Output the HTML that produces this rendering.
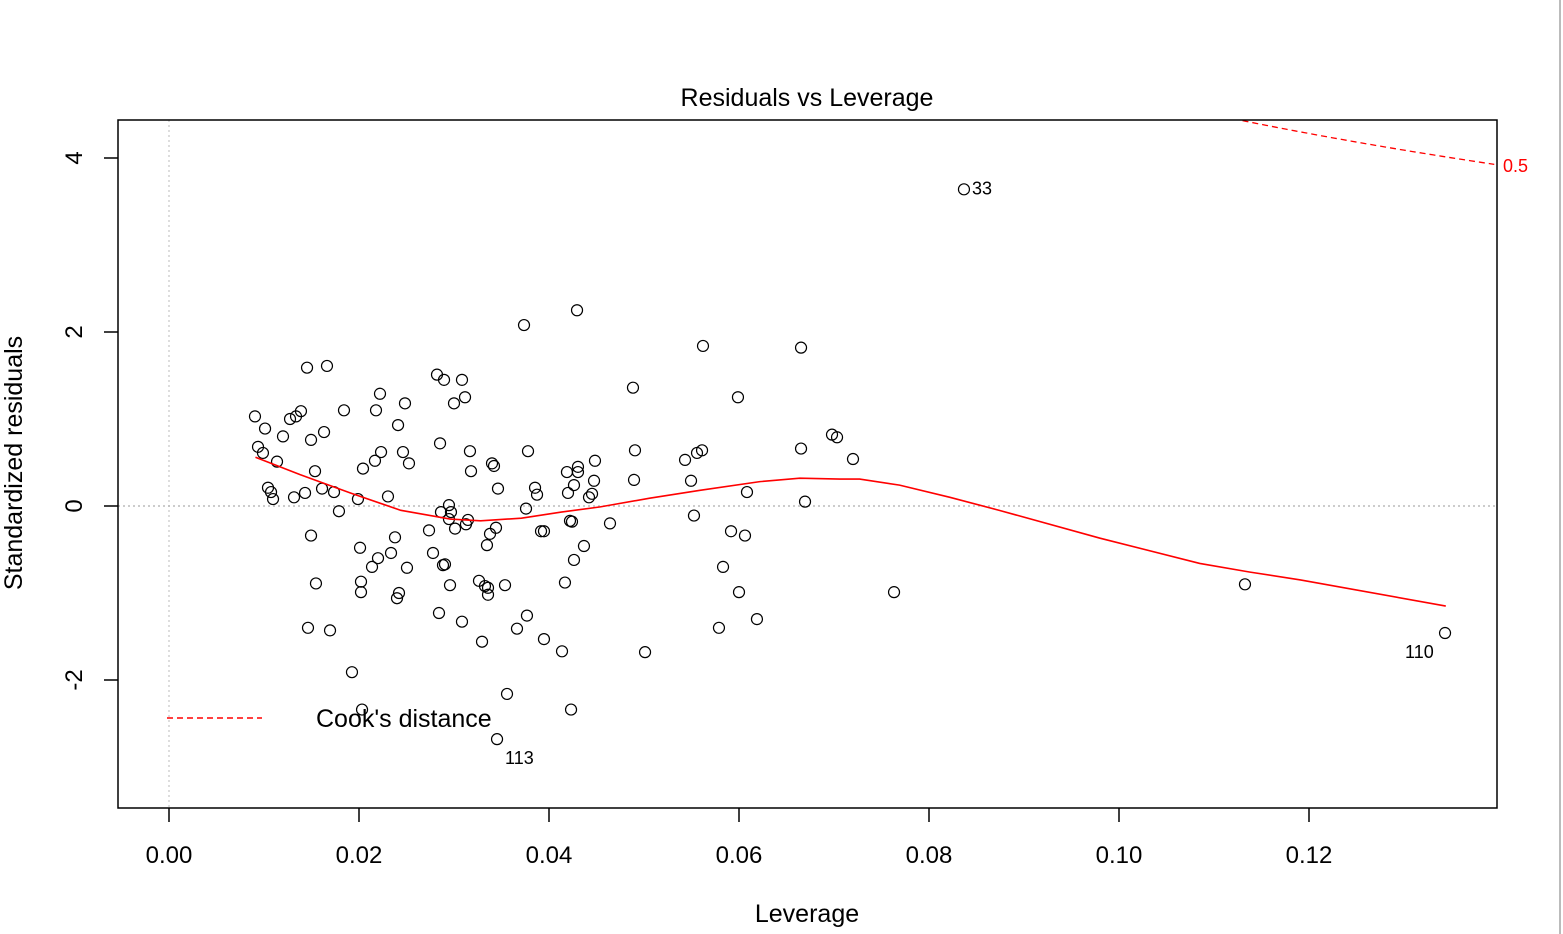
<!DOCTYPE html>
<html><head><meta charset="utf-8">
<style>
html,body{margin:0;padding:0;background:#fff;}
svg{display:block;font-family:"Liberation Sans",sans-serif;}
</style></head>
<body>
<svg id="chart" width="1563" height="934" viewBox="0 0 1563 934" xmlns="http://www.w3.org/2000/svg">
<line x1="1560" y1="0" x2="1560" y2="934" stroke="#bbb" stroke-width="2"/>
<text x="807" y="106" font-size="25" text-anchor="middle">Residuals vs Leverage</text>
<text x="807" y="922" font-size="25" text-anchor="middle">Leverage</text>
<text transform="translate(22,463) rotate(-90)" font-size="25" text-anchor="middle">Standardized residuals</text>
<g id="grid"></g><g id="axes"></g><g id="marks"></g>
<rect x="118" y="120" width="1379" height="688" fill="none" stroke="#000" stroke-width="1.5"/>
<line x1="167" y1="718" x2="262" y2="718" stroke="red" stroke-width="1.5" stroke-dasharray="6,4"/>
<text x="316" y="727" font-size="25">Cook's distance</text>
</svg>
<script>
const leverage=[0.00905,0.00937,0.00989,0.01011,0.01042,0.01074,0.01095,0.01137,0.01200,0.01274,0.01316,0.01337,0.01389,0.01432,0.01453,0.01495,0.01495,0.01537,0.01547,0.01463,0.01611,0.01632,0.01663,0.01695,0.01737,0.01789,0.01842,0.01926,0.01989,0.02011,0.02021,0.02021,0.02032,0.02042,0.02137,0.02168,0.02179,0.02200,0.02221,0.02232,0.02305,0.02337,0.02379,0.02400,0.02411,0.02421,0.02463,0.02484,0.02505,0.02526,0.02737,0.02779,0.02821,0.02842,0.02853,0.02863,0.02884,0.02895,0.02905,0.02947,0.02947,0.02958,0.02968,0.03000,0.03011,0.03084,0.03084,0.03116,0.03126,0.03147,0.03168,0.03179,0.03263,0.03295,0.03326,0.03347,0.03358,0.03358,0.03379,0.03400,0.03421,0.03442,0.03453,0.03463,0.03537,0.03558,0.03663,0.03737,0.03758,0.03768,0.03779,0.03853,0.03874,0.03916,0.03947,0.03947,0.04137,0.04168,0.04189,0.04200,0.04221,0.04232,0.04242,0.04263,0.04263,0.04295,0.04305,0.04305,0.04368,0.04421,0.04453,0.04474,0.04484,0.04642,0.04884,0.04895,0.04905,0.05011,0.05432,0.05495,0.05526,0.05558,0.05611,0.05621,0.05789,0.05832,0.05916,0.05989,0.06000,0.06063,0.06084,0.06189,0.06653,0.06653,0.06695,0.06979,0.07032,0.07200,0.07632,0.08368,0.11326,0.13432];
const residuals=[1.03,0.68,0.61,0.89,0.21,0.16,0.08,0.51,0.80,1.00,0.10,1.03,1.09,0.15,1.59,-0.34,0.76,0.40,-0.89,-1.40,0.20,0.85,1.61,-1.43,0.16,-0.06,1.10,-1.91,0.08,-0.48,-0.87,-0.99,-2.34,0.43,-0.70,0.52,1.10,-0.60,1.29,0.62,0.11,-0.54,-0.36,-1.06,0.93,-1.00,0.62,1.18,-0.71,0.49,-0.28,-0.54,1.51,-1.23,0.72,-0.07,-0.68,1.45,-0.67,0.01,-0.15,-0.91,-0.07,1.18,-0.26,-1.33,1.45,1.25,-0.21,-0.16,0.63,0.40,-0.86,-1.56,-0.92,-0.45,-1.02,-0.94,-0.32,0.49,0.46,-0.25,-2.68,0.20,-0.91,-2.16,-1.41,2.08,-0.03,-1.26,0.63,0.21,0.13,-0.29,-0.29,-1.53,-1.67,-0.88,0.39,0.15,-0.17,-2.34,-0.18,-0.62,0.24,2.25,0.45,0.39,-0.46,0.10,0.14,0.29,0.52,-0.20,1.36,0.30,0.64,-1.68,0.53,0.29,-0.11,0.61,0.64,1.84,-1.40,-0.70,-0.29,1.25,-0.99,-0.34,0.16,-1.30,0.66,1.82,0.05,0.82,0.79,0.54,-0.99,3.64,-0.90,-1.46];
const smoothX=[0.0091,0.0138,0.0191,0.0244,0.0296,0.0328,0.0371,0.0413,0.0454,0.0506,0.0559,0.0622,0.0664,0.0706,0.0727,0.0769,0.0822,0.0874,0.0980,0.1085,0.1138,0.1191,0.1344];
const smoothY=[0.56,0.36,0.15,-0.05,-0.15,-0.17,-0.14,-0.07,-0.01,0.09,0.18,0.28,0.32,0.31,0.31,0.24,0.10,-0.05,-0.37,-0.66,-0.76,-0.85,-1.15];
const xTicks=[0,0.02,0.04,0.06,0.08,0.10,0.12];
const xTickLabels=["0.00","0.02","0.04","0.06","0.08","0.10","0.12"];
const yTicks=[-2,0,2,4];
const yTickLabels=["-2","0","2","4"];
const labelResidual=[3.64,-2.68,-1.46];
const labelText=["33","113","110"];
const cookLevel=0.5, nParams=5;

const NS="http://www.w3.org/2000/svg";
const X=v=>169+v*9500, Y=v=>506-v*87;
function mk(tag,attrs,parent){const e=document.createElementNS(NS,tag);for(const k in attrs)e.setAttribute(k,attrs[k]);document.getElementById(parent).appendChild(e);return e;}

let g=mk('line',{x1:X(0),y1:120,x2:X(0),y2:808,stroke:'#bbb','stroke-dasharray':'2,3'},'grid');


g=mk('line',{x1:118,y1:Y(0),x2:1497,y2:Y(0),stroke:'#bbb','stroke-dasharray':'2,3','stroke-width':1.5},'grid');



xTicks.forEach((t,i)=>{
  const l=mk('line',{x1:X(t),y1:808,x2:X(t),y2:822,stroke:'#000','stroke-width':1.5},'axes');
  
  
  const tx=mk('text',{x:X(t),y:863,'font-size':24,'text-anchor':'middle'},'axes');tx.textContent=xTickLabels[i];
  
  
});
yTicks.forEach((t,i)=>{
  const l=mk('line',{x1:104,y1:Y(t),x2:118,y2:Y(t),stroke:'#000','stroke-width':1.5},'axes');
  
  
  const tx=mk('text',{transform:`translate(82,${Y(t)}) rotate(-90)`,'font-size':24,'text-anchor':'middle'},'axes');tx.textContent=yTickLabels[i];
  
  
});

leverage.forEach((h,i)=>{
  const c=mk('circle',{cx:X(h),cy:Y(residuals[i]),r:5.5,fill:'none',stroke:'#000','stroke-width':1.2},'marks');
  
  
});
let d=smoothX.map((x,i)=>(i?'L':'M')+X(x)+','+Y(smoothY[i])).join(' ');
let p=mk('path',{d:d,fill:'none',stroke:'red','stroke-width':1.6},'marks');



let pts=[];
for(let h=0.1;h<=0.1398;h+=0.0005){const r=Math.sqrt(cookLevel*nParams*(1-h)/h);if(Y(r)>=120)pts.push(X(h)+','+Y(r));}
let ck=mk('polyline',{points:pts.join(' '),fill:'none',stroke:'red','stroke-width':1.3,'stroke-dasharray':'6,4'},'marks');


let cl=mk('text',{x:1503,y:172,'font-size':18,fill:'red'},'marks');cl.textContent=String(cookLevel);



const offs=[[8,5],[8,25],[-40,25]];
labelResidual.forEach((rv,i)=>{
  const idx=residuals.indexOf(rv);
  const t=mk('text',{x:X(leverage[idx])+offs[i][0],y:Y(residuals[idx])+offs[i][1],'font-size':18},'marks');t.textContent=labelText[i];
  
  
});
</script>
</body></html>
